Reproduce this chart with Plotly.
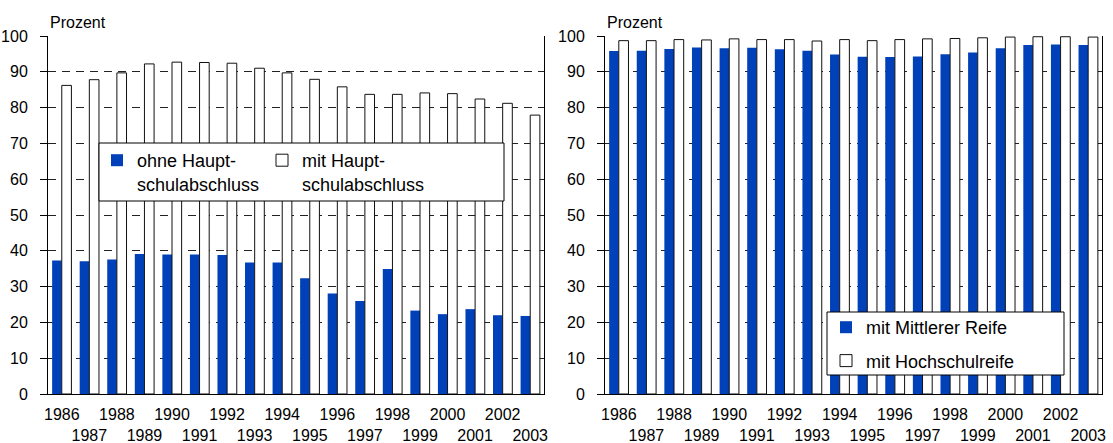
import plotly.graph_objects as go
from plotly.subplots import make_subplots

years = [str(y) for y in range(1986, 2004)]
tick_labels = [y if i % 2 == 0 else "<br>" + y for i, y in enumerate(years)]

ohne_haupt = [37.3, 37.1, 37.6, 39.1, 39.0, 39.0, 38.8, 36.7, 36.7, 32.3, 28.1, 26.0,
              34.9, 23.3, 22.3, 23.7, 22.0, 21.8]
mit_haupt = [86.2, 87.8, 89.7, 92.2, 92.7, 92.6, 92.4, 91.0, 89.7, 87.9, 85.8, 83.7,
             83.7, 84.1, 83.9, 82.4, 81.2, 77.9]
mittlere_reife = [95.8, 95.9, 96.4, 96.8, 96.6, 96.7, 96.3, 95.9, 94.8, 94.2, 94.1, 94.3,
                  94.9, 95.4, 96.6, 97.5, 97.6, 97.5]
hochschulreife = [98.7, 98.7, 99.0, 98.9, 99.2, 99.0, 99.0, 98.6, 99.0, 98.7, 99.0, 99.2,
                  99.3, 99.5, 99.7, 99.8, 99.8, 99.7]

BLUE = "#0040B8"
FONT = "Arial, Liberation Sans, sans-serif"
W, H = 1113, 443
ML, MR, MT, MB = 48, 11, 36, 49
PW, PH = W - ML - MR, H - MT - MB


def px_x(x):
    return (x - ML) / PW


def px_y(y):
    return (H - MB - y) / PH


fig = make_subplots(rows=1, cols=2)

fig.add_trace(go.Bar(x=years, y=ohne_haupt, name="ohne Haupt-<br>schulabschluss",
                     marker=dict(color=BLUE, line=dict(width=0)), legend="legend"), 1, 1)
fig.add_trace(go.Bar(x=years, y=mit_haupt, name="mit Haupt-<br>schulabschluss",
                     marker=dict(color="white", line=dict(color="#111", width=1)),
                     legend="legend"), 1, 1)
fig.add_trace(go.Bar(x=years, y=mittlere_reife, name="mit Mittlerer Reife",
                     marker=dict(color=BLUE, line=dict(width=0)), legend="legend2",
                     legendgroup="a"), 1, 2)
fig.add_trace(go.Bar(x=years, y=hochschulreife, name="mit Hochschulreife",
                     marker=dict(color="white", line=dict(color="#111", width=1)),
                     legend="legend2", legendgroup="b"), 1, 2)

xd1 = [px_x(48), px_x(544)]
xd2 = [px_x(605), px_x(1102)]
yd = [0, 1]

xcommon = dict(type="category", tickmode="array", tickvals=years, ticktext=tick_labels,
               ticks="", showline=True, linecolor="black", linewidth=1, showgrid=False,
               tickfont=dict(family=FONT, size=16, color="black"), tickangle=0,
               automargin=False, ticklabelstandoff=6)
ycommon = dict(range=[0, 100], dtick=10, ticks="outside", ticklen=7, tickcolor="black",
               showline=True, linecolor="black", linewidth=1, mirror=True,
               showgrid=True, gridcolor="#222", griddash="8px,6px", gridwidth=1,
               zeroline=False, tickfont=dict(family=FONT, size=16, color="black"),
               automargin=False, ticklabelstandoff=9)

fig.update_layout(
    xaxis=dict(domain=xd1, **xcommon),
    xaxis2=dict(domain=xd2, **xcommon),
    yaxis=dict(domain=yd, **ycommon),
    yaxis2=dict(domain=yd, **ycommon),
)

box_style = dict(type="rect", xref="paper", yref="paper", layer="above",
                 line=dict(color="black", width=1), fillcolor="white")

fig.update_layout(
    width=W, height=H, margin=dict(l=ML, r=MR, t=MT, b=MB),
    paper_bgcolor="white", plot_bgcolor="white",
    barmode="group", bargap=0.3, bargroupgap=0,
    font=dict(family=FONT, size=16, color="black"),
    legend=dict(orientation="h", x=px_x(97), y=px_y(142), xanchor="left", yanchor="top",
                borderwidth=0, bgcolor="rgba(0,0,0,0)",
                font=dict(family=FONT, size=18, color="black"), valign="top",
                entrywidth=120, traceorder="normal"),
    legend2=dict(orientation="v", x=px_x(826), y=px_y(309), xanchor="left", yanchor="top",
                 borderwidth=0, bgcolor="rgba(0,0,0,0)",
                 font=dict(family=FONT, size=18, color="black"), tracegroupgap=7,
                 traceorder="grouped"),
    shapes=[
        dict(x0=px_x(99), x1=px_x(504), y0=px_y(201), y1=px_y(143), **box_style),
        dict(x0=px_x(827), x1=px_x(1064), y0=px_y(375), y1=px_y(312), **box_style),
    ],
    annotations=[
        dict(text="Prozent", x=xd1[0], y=px_y(22), xref="paper", yref="paper",
             xanchor="left", yanchor="middle", showarrow=False,
             font=dict(family=FONT, size=16, color="black")),
        dict(text="Prozent", x=xd2[0], y=px_y(22), xref="paper", yref="paper",
             xanchor="left", yanchor="middle", showarrow=False,
             font=dict(family=FONT, size=16, color="black")),
    ],
)

fig.write_html("out.html", config={"displayModeBar": False},
               post_script="document.body.style.margin='0px';")
